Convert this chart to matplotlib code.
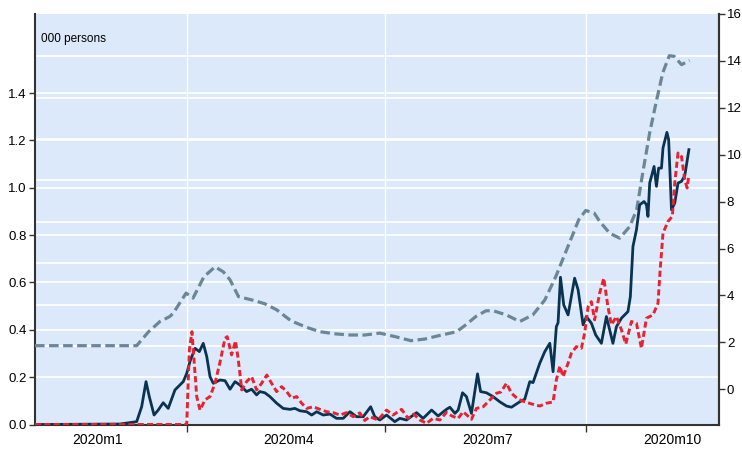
import matplotlib
matplotlib.use("Agg")
import matplotlib.pyplot as plt
from matplotlib.ticker import FixedLocator, NullFormatter, FixedFormatter

plt.rcParams['font.family'] = ['Liberation Sans', 'DejaVu Sans']

# x in days since 2020-01-01 (day 0 = Jan 1)
gray_days = [21, 67.7, 73.2, 78.4, 82.9, 84.5, 90.4, 93.6, 98.6, 103.7, 107.5, 110.6,
             114.5, 120.7, 126.6, 132.1, 138.6, 145.9, 151.9, 158.8, 165.7, 172.5,
             179.4, 186.5, 193.7, 200.1, 205.9, 214.7, 218.9, 223.5, 228.1, 231.3,
             237.5, 243.7, 249.7, 255.2, 260.2, 265.8, 270.8, 274, 277.9, 280.4, 285,
             289.6, 294.2, 297.4, 300.2, 303.4, 306.6, 309.4, 312.4, 314.7, 318, 321.7]
gray_vals = [0.333, 0.333, 0.392, 0.435, 0.456, 0.470, 0.555, 0.534, 0.624, 0.666, 0.645,
             0.611, 0.540, 0.526, 0.510, 0.484, 0.438, 0.410, 0.392, 0.383, 0.378, 0.378,
             0.386, 0.371, 0.354, 0.361, 0.374, 0.392, 0.421, 0.456, 0.480, 0.481, 0.463,
             0.435, 0.463, 0.526, 0.624, 0.751, 0.865, 0.904, 0.893, 0.858, 0.808, 0.787,
             0.836, 0.907, 1.063, 1.233, 1.372, 1.486, 1.558, 1.555, 1.520, 1.538]

blue_days = [21, 60, 67.7, 70.0, 72.0, 73.5, 75.7, 77.6, 79.9, 82.2, 85.3, 89.1, 90.7, 92.2,
             94.5, 96.5, 98.3, 99.9, 101.4, 102.9, 106.0, 108.3, 110.6, 112.9, 115.1,
             118.2, 120.5, 122.8, 124.3, 126.6, 128.9, 132.0, 135.0, 138.1, 140.4, 142.7,
             145.8, 148.1, 150.4, 153.4, 156.5, 159.5, 162.6, 165.7, 168.7, 171.8, 175.2,
             177.1, 179.4, 182.5, 186.3, 188.6, 191.7, 196.3, 199.3, 203.2, 206.2, 210.0,
             211.6, 213.9, 215.4, 217.4, 219.2, 221.5, 224.3, 225.7, 228.4, 231.4, 234.5,
             237.6, 239.9, 243.7, 246.0, 248.3, 249.8, 252.9, 255.2, 257.5, 259.0, 260.5,
             261.3, 262.4, 263.9, 265.9, 268.9, 270.5, 272.8, 274.3, 276.6, 278.6, 281.2,
             283.5, 285.0, 286.5, 288.1, 290.4, 293.4, 294.5, 295.7, 297.3, 298.8, 299.8,
             300.8, 301.9, 302.6, 303.4, 305.4, 306.5, 307.5, 308.8, 309.5, 311.3, 312.1,
             313.4, 314.9, 316.4, 318.0, 319.5, 321.4]
blue_vals = [0.0, 0.002, 0.012, 0.075, 0.181, 0.118, 0.040, 0.061, 0.092, 0.068, 0.146, 0.181,
             0.216, 0.266, 0.322, 0.308, 0.343, 0.287, 0.202, 0.174, 0.188, 0.185, 0.149,
             0.181, 0.167, 0.139, 0.149, 0.125, 0.139, 0.134, 0.118, 0.090, 0.068, 0.064,
             0.068, 0.058, 0.054, 0.040, 0.054, 0.040, 0.044, 0.026, 0.026, 0.054, 0.033,
             0.033, 0.075, 0.033, 0.019, 0.040, 0.012, 0.026, 0.019, 0.050, 0.026, 0.061,
             0.036, 0.064, 0.073, 0.047, 0.061, 0.134, 0.118, 0.047, 0.214, 0.139, 0.134,
             0.118, 0.096, 0.078, 0.073, 0.096, 0.107, 0.181, 0.177, 0.259, 0.308, 0.343,
             0.223, 0.413, 0.430, 0.622, 0.505, 0.463, 0.618, 0.569, 0.421, 0.456, 0.428,
             0.378, 0.343, 0.456, 0.400, 0.343, 0.413, 0.449, 0.477, 0.540, 0.752, 0.822,
             0.928, 0.935, 0.942, 0.928, 0.879, 1.020, 1.090, 1.006, 1.083, 1.083, 1.168,
             1.234, 1.203, 0.907, 0.935, 1.020, 1.027, 1.051, 1.161]

red_days = [21, 90.7, 91.9, 93.1, 95.3, 96.8, 99.1, 101.4, 103.7, 106.0, 108.3, 109.3, 111.3,
            113.1, 114.4, 116.0, 118.2, 120.5, 122.8, 125.1, 127.5, 129.7, 132.0, 134.3,
            136.6, 138.9, 141.2, 143.5, 145.8, 148.8, 151.9, 155.0, 158.0, 161.1, 164.1,
            167.2, 170.2, 172.5, 174.8, 178.6, 182.5, 185.5, 189.4, 192.4, 195.0, 197.8,
            200.9, 203.9, 207.0, 210.0, 212.5, 215.4, 217.7, 221.5, 223.8, 226.9, 230.0,
            233.0, 235.0, 237.6, 239.9, 242.9, 246.0, 249.1, 252.9, 256.0, 259.0, 260.5,
            262.1, 263.6, 265.9, 267.4, 269.7, 272.0, 273.5, 275.1, 276.6, 278.1, 280.4,
            282.3, 284.2, 285.8, 288.1, 290.4, 292.4, 295.0, 297.3, 299.6, 301.9, 304.9,
            307.2, 308.2, 309.5, 311.8, 313.8, 314.9, 316.4, 318.0, 319.5, 320.6, 321.4]
red_vals = [0.0, 0.0, 0.315, 0.392, 0.118, 0.061, 0.104, 0.118, 0.174, 0.264, 0.364, 0.371,
            0.294, 0.353, 0.273, 0.146, 0.181, 0.202, 0.146, 0.174, 0.209, 0.174, 0.139,
            0.160, 0.139, 0.111, 0.118, 0.090, 0.068, 0.075, 0.064, 0.054, 0.050, 0.040,
            0.050, 0.033, 0.049, 0.017, 0.033, 0.019, 0.061, 0.040, 0.064, 0.026, 0.044,
            0.019, 0.005, 0.026, 0.019, 0.051, 0.036, 0.026, 0.054, 0.022, 0.068, 0.075,
            0.104, 0.132, 0.137, 0.174, 0.132, 0.107, 0.096, 0.087, 0.078, 0.090, 0.095,
            0.188, 0.247, 0.202, 0.259, 0.301, 0.329, 0.322, 0.386, 0.498, 0.519, 0.442,
            0.555, 0.618, 0.498, 0.421, 0.456, 0.400, 0.340, 0.435, 0.428, 0.322, 0.449,
            0.463, 0.512, 0.653, 0.808, 0.858, 0.879, 1.020, 1.147, 1.132, 1.034, 0.999,
            1.055]

left_ticks = [0.0, 0.2, 0.4, 0.6, 0.8, 1.0, 1.2, 1.4]
right_ticks = [0, 2, 4, 6, 8, 10, 12, 14, 16]
quarter_bounds = [91, 182, 274]
quarter_label_days = [49.5, 137.5, 229, 314]
quarter_labels = ["2020m1", "2020m4", "2020m7", "2020m10"]

W, H = 742, 449
fig = plt.figure(figsize=(W / 100, H / 100), dpi=100)
ax = fig.add_axes([35 / W, (H - 424.5) / H, (718.5 - 35) / W, (424.5 - 14) / H])
ax.set_facecolor('#DCE9FA')

ax.set_xlim(21, 335)
ax.set_ylim(0, 1.734)

# grid lines
for v in left_ticks[1:]:
    ax.axhline(v, color='white', lw=1.2, zorder=1)
for k in range(8):
    ax.axhline(0.3315 + 0.1748 * k, color='white', lw=1.2, zorder=1)
for d in quarter_bounds:
    ax.axvline(d, color='white', lw=1.0, zorder=1)

ax.plot(gray_days, gray_vals, color='#6B8797', lw=2.3, linestyle=(0, (3.0, 1.4)), zorder=3)
ax.plot(blue_days, blue_vals, color='#0A3352', lw=2.0, zorder=4)
ax.plot(red_days, red_vals, color='#E8222E', lw=2.1, linestyle=(0, (2.1, 1.1)), zorder=5)

ax.annotate("000 persons", xy=(41 / W, 1 - 39 / H), xycoords='figure fraction',
            fontsize=8.5, va='center', ha='left')

# spines
for s in ['left', 'bottom', 'right']:
    ax.spines[s].set_color('#333333')
    ax.spines[s].set_linewidth(1.5)
ax.spines['top'].set_visible(False)

ax.set_yticks(left_ticks)
ax.set_yticklabels([f"{t:.1f}" for t in left_ticks])
ax.tick_params(axis='y', direction='out', length=4, width=1, colors='#333333',
               labelcolor='black', labelsize=9.5, pad=2)

ax.xaxis.set_major_locator(FixedLocator(quarter_bounds))
ax.xaxis.set_major_formatter(NullFormatter())
ax.xaxis.set_minor_locator(FixedLocator(quarter_label_days))
ax.xaxis.set_minor_formatter(FixedFormatter(quarter_labels))
ax.tick_params(axis='x', which='major', direction='out', length=5, width=1, colors='#333333')
ax.tick_params(axis='x', which='minor', length=0, labelsize=10, pad=6, labelcolor='black')

ax2 = ax.twinx()
ax2.set_ylim(-1.50, 16)
ax2.set_yticks(right_ticks)
ax2.set_yticklabels([str(t) for t in right_ticks])
ax2.tick_params(axis='y', direction='out', length=4, width=1, colors='#333333',
                labelcolor='black', labelsize=9.5, pad=2)
for s in ['top', 'left', 'bottom']:
    ax2.spines[s].set_visible(False)
ax2.spines['right'].set_color('#333333')
ax2.spines['right'].set_linewidth(1.5)

fig.savefig("out.png", dpi=100, facecolor='white')
